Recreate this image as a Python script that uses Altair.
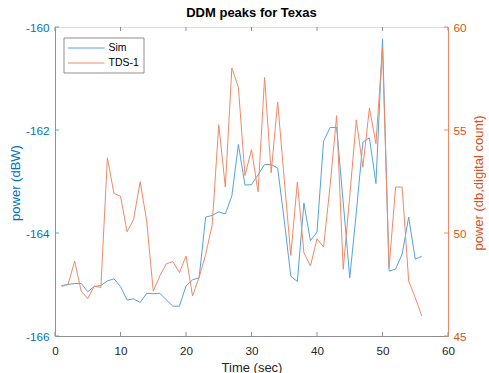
import altair as alt
import pandas as pd

# ---- data ----
time_s = [1, 2, 3, 4, 5, 6, 7, 8, 9, 10, 11, 12, 13, 14, 15, 16, 17, 18, 19, 20,
          21, 22, 23, 24, 25, 26, 27, 28, 29, 30, 31, 32, 33, 34, 35, 36, 37, 38, 39, 40,
          41, 42, 43, 44, 45, 46, 47, 48, 49, 50, 51, 52, 53, 54, 55, 56]
sim_dbw = [-165.02, -165.00, -164.98, -164.98, -165.14, -165.04, -165.02, -164.93, -164.89, -165.04,
           -165.30, -165.28, -165.35, -165.17, -165.18, -165.17, -165.30, -165.42, -165.42, -165.03,
           -164.91, -164.87, -163.69, -163.66, -163.59, -163.63, -163.28, -162.28, -163.07, -163.06,
           -162.87, -162.67, -162.67, -162.74, -163.76, -164.84, -164.94, -163.42, -164.15, -163.98,
           -162.22, -161.95, -161.95, -163.40, -164.87, -163.60, -162.24, -162.15, -163.04, -160.23,
           -164.74, -164.70, -164.41, -163.69, -164.51, -164.45]
tds1_count = [47.40, 47.51, 48.63, 47.18, 46.81, 47.43, 47.35, 53.65, 51.92, 51.79,
              50.06, 50.66, 52.49, 50.58, 47.18, 47.91, 48.51, 48.61, 48.08, 48.88,
              46.94, 47.85, 48.95, 50.40, 55.26, 52.23, 58.01, 57.07, 52.79, 54.05,
              52.00, 57.55, 52.92, 56.36, 52.60, 48.91, 52.47, 49.04, 48.40, 49.72,
              49.32, 52.30, 55.70, 48.24, 51.80, 55.49, 53.19, 56.06, 54.34, 58.98,
              48.31, 52.23, 52.23, 47.67, 46.86, 45.97]
series_names = ["Sim", "TDS-1"]
x_ticks = [0, 10, 20, 30, 40, 50, 60]
left_ticks = [-166, -164, -162, -160]
right_ticks = [45, 50, 55, 60]

# ---- styling ----
W, H = 393, 309
BLUE = "#0072BD"
ORANGE = "#D95319"
BLUE_LINE = "#55a3db"
ORANGE_LINE = "#ee8a68"
GRAY = "#262626"
BOX = "#8f8f8f"
FONT = "Liberation Sans"
TL = 4

sim_df = pd.DataFrame({"t": time_s, "v": sim_dbw, "series": series_names[0]})
tds_df = pd.DataFrame({"t": time_s, "v": tds1_count, "series": series_names[1]})
xt_df = pd.DataFrame({"xt": x_ticks})
lt_df = pd.DataFrame({"yt": left_ticks})
rt_df = pd.DataFrame({"yt": right_ticks})

xscale = alt.Scale(domain=[0, 60], nice=False, zero=False)
lscale = alt.Scale(domain=[-166, -160], nice=False, zero=False)
rscale = alt.Scale(domain=[45, 60], nice=False, zero=False)

x_axis = alt.Axis(values=x_ticks, title="Time (sec)", labelExpr="toString(datum.value)",
                  ticks=False, tickSize=0, labelPadding=9, labelFlush=False,
                  labelFontSize=11.7, labelFont=FONT, labelColor=GRAY,
                  domainColor=BOX, domainWidth=1, grid=False,
                  titleFont=FONT, titleFontSize=13, titleFontWeight="normal", titleColor=GRAY,
                  titleBaseline="top", titleAlign="center", titleX=W / 2, titleY=25)

# legend line symbol: a horizontal stroke longer than the symbol cell
color = alt.Color("series:N",
                  scale=alt.Scale(domain=series_names, range=[BLUE_LINE, ORANGE_LINE]),
                  legend=alt.Legend(title=None, orient="none", legendX=8.5, legendY=10.5,
                                    symbolType="M-1,0H5.1", symbolSize=144, symbolStrokeWidth=1,
                                    labelFont=FONT, labelFontSize=10.5, labelColor="#000000",
                                    labelOffset=28, fillColor="white", strokeColor=BOX,
                                    padding=4, rowPadding=3))

xenc = alt.X("t:Q", scale=xscale, axis=x_axis)

sim_line = alt.Chart(sim_df).mark_line(strokeWidth=1).encode(
    x=xenc,
    y=alt.Y("v:Q", scale=lscale,
            axis=alt.Axis(orient="left", values=left_ticks, title="power (dBW)",
                          labelExpr="toString(datum.value)", ticks=False, tickSize=0,
                          labelPadding=6, labelFontSize=11.7, labelFont=FONT, labelColor=BLUE,
                          domainColor=BLUE_LINE, grid=False,
                          titleFont=FONT, titleFontSize=13, titleFontWeight="normal",
                          titleColor=BLUE, titleAngle=270, titleAlign="center",
                          titleBaseline="middle", titleX=-40, titleY=H / 2 + 1)),
    color=color,
)

tds_line = alt.Chart(tds_df).mark_line(strokeWidth=1).encode(
    x=xenc,
    y=alt.Y("v:Q", scale=rscale,
            axis=alt.Axis(orient="right", values=right_ticks, title="power (db,digital count)",
                          labelExpr="toString(datum.value)", ticks=False, tickSize=0,
                          labelPadding=5, labelFontSize=11.7, labelFont=FONT, labelColor=ORANGE,
                          domainColor=ORANGE_LINE, grid=False,
                          titleFont=FONT, titleFontSize=13, titleFontWeight="normal",
                          titleColor=ORANGE, titleAngle=270, titleAlign="center",
                          titleBaseline="middle", titleX=30, titleY=H / 2 + 1)),
    color=color,
)

xt_enc = alt.X("xt:Q", scale=xscale, axis=x_axis)
xticks_bottom = alt.Chart(xt_df).mark_rule(color=BOX, strokeWidth=1).encode(
    x=xt_enc, y=alt.value(H), y2=alt.value(H - TL))
xticks_top = alt.Chart(xt_df).mark_rule(color=BOX, strokeWidth=1).encode(
    x=xt_enc, y=alt.value(0), y2=alt.value(TL))
lticks = alt.Chart(lt_df).mark_rule(color=BLUE_LINE, strokeWidth=1).encode(
    y=alt.Y("yt:Q", scale=lscale, axis=None), x=alt.value(0), x2=alt.value(TL))
rticks = alt.Chart(rt_df).mark_rule(color=ORANGE_LINE, strokeWidth=1).encode(
    y=alt.Y("yt:Q", scale=rscale, axis=None), x=alt.value(W), x2=alt.value(W - TL))

chart = alt.layer(
    xticks_bottom, xticks_top, lticks, rticks, sim_line, tds_line
).resolve_scale(
    y="independent"
).properties(
    width=W, height=H,
    autosize=alt.AutoSizeParams(type="none"),
    padding={"left": 55, "top": 27, "right": 41, "bottom": 37},
    title=alt.TitleParams("DDM peaks for Texas", font=FONT, fontSize=13, fontWeight="bold",
                          color="#000000", anchor="middle", frame="group", offset=2),
).configure_view(
    stroke=BOX, strokeWidth=1
).configure(background="white")

chart.save("out.html", embed_options={"renderer": "svg", "actions": False})
